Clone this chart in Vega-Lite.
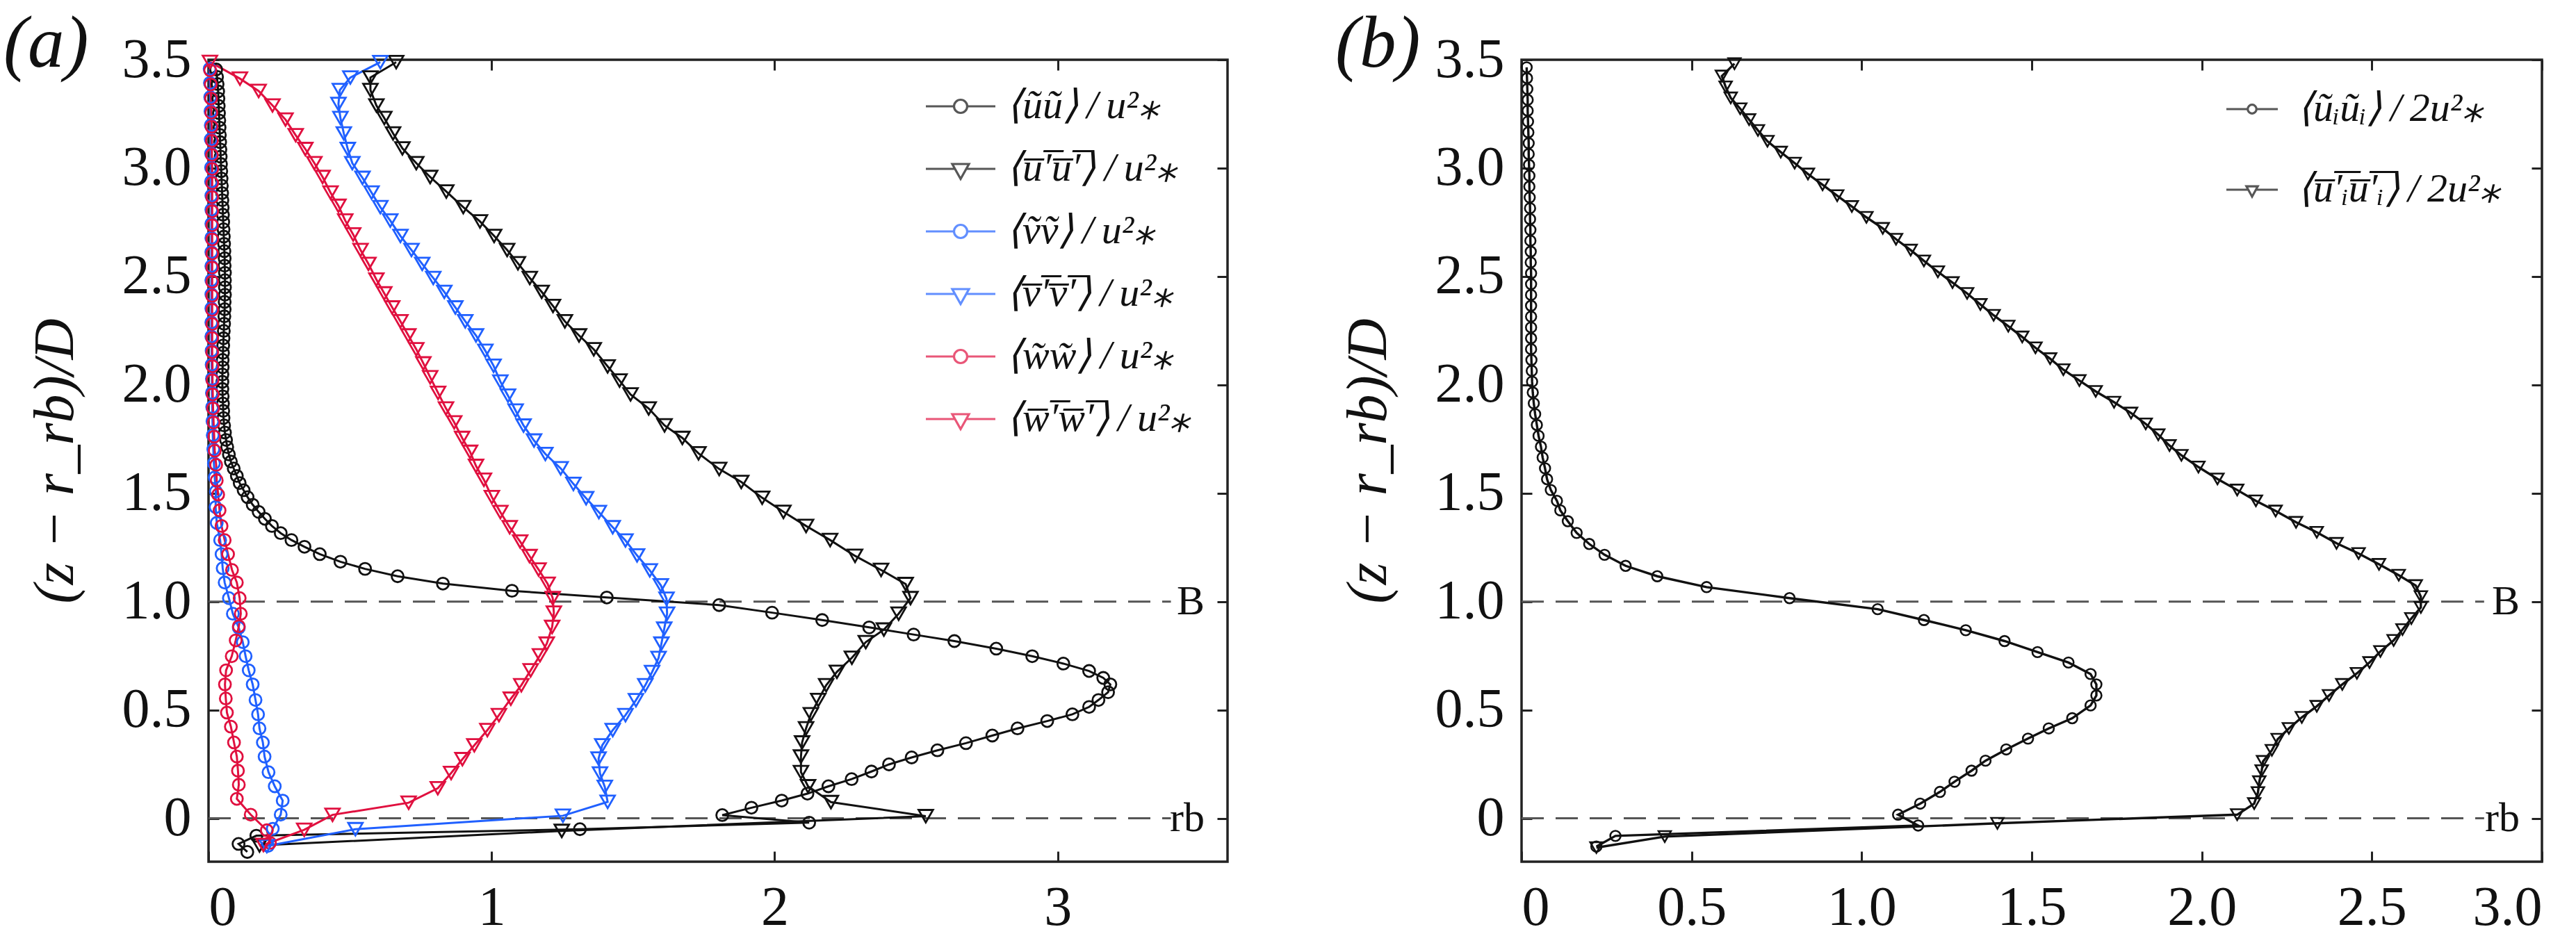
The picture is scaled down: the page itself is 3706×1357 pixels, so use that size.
{
  "$schema": "https://vega.github.io/schema/vega-lite/v6.json",
  "background": "white",
  "padding": {"left": 3, "top": 10, "right": 10, "bottom": 5},
  "bounds": "flush",
  "spacing": 423,
  "config": {
    "view": {"stroke": "#222222", "strokeWidth": 3.5},
    "font": "Liberation Serif",
    "axis": {
      "grid": false, "domain": false, "tickSize": -15, "tickWidth": 3, "tickColor": "#222222",
      "labelFont": "Liberation Serif", "labelFontSize": 80, "labelColor": "#111111",
      "titleFont": "Liberation Serif", "titleFontSize": 82, "titleFontStyle": "italic",
      "titleFontWeight": "normal", "titleColor": "#111111"
    },
    "axisBottom": {"labelPadding": 42},
    "axisLeft": {"labelPadding": 40, "titlePadding": 54},
    "title": {"font": "Liberation Serif", "fontSize": 105, "fontStyle": "italic", "fontWeight": "normal",
              "anchor": "start", "frame": "group", "color": "#111111", "offset": 0, "baseline": "alphabetic", "dy": 76},
    "legend": {"title": null, "orient": "none", "padding": 0, "labelFont": "Liberation Serif",
               "labelFontStyle": "italic", "labelFontSize": 58, "labelColor": "#111111",
               "labelLimit": 2000, "symbolStrokeWidth": 3.2}
  },
  "hconcat": [
    {
      "width": 1466,
      "height": 1154,
      "title": {"text": "(a)", "dx": -295},
      "data": {"values": [
        {"s":"a1","z":-0.155,"x":0.137},{"s":"a1","z":-0.118,"x":0.106},{"s":"a1","z":-0.080,"x":0.169},{"s":"a1","z":-0.050,"x":1.312},
        {"s":"a1","z":-0.020,"x":2.122},{"s":"a1","z":0.015,"x":1.815},{"s":"a1","z":0.049,"x":1.918},{"s":"a1","z":0.082,"x":2.025},
        {"s":"a1","z":0.114,"x":2.116},{"s":"a1","z":0.148,"x":2.190},{"s":"a1","z":0.181,"x":2.272},{"s":"a1","z":0.216,"x":2.342},
        {"s":"a1","z":0.249,"x":2.404},{"s":"a1","z":0.281,"x":2.484},{"s":"a1","z":0.314,"x":2.575},{"s":"a1","z":0.347,"x":2.676},
        {"s":"a1","z":0.382,"x":2.769},{"s":"a1","z":0.415,"x":2.858},{"s":"a1","z":0.449,"x":2.963},{"s":"a1","z":0.480,"x":3.052},
        {"s":"a1","z":0.514,"x":3.111},{"s":"a1","z":0.546,"x":3.144},{"s":"a1","z":0.582,"x":3.178},{"s":"a1","z":0.618,"x":3.186},
        {"s":"a1","z":0.648,"x":3.161},{"s":"a1","z":0.680,"x":3.111},{"s":"a1","z":0.714,"x":3.020},{"s":"a1","z":0.748,"x":2.910},
        {"s":"a1","z":0.783,"x":2.783},{"s":"a1","z":0.818,"x":2.635},{"s":"a1","z":0.848,"x":2.491},{"s":"a1","z":0.881,"x":2.334},
        {"s":"a1","z":0.915,"x":2.168},{"s":"a1","z":0.949,"x":1.991},{"s":"a1","z":0.984,"x":1.804},{"s":"a1","z":1.019,"x":1.407},
        {"s":"a1","z":1.050,"x":1.072},{"s":"a1","z":1.083,"x":0.828},{"s":"a1","z":1.117,"x":0.668},{"s":"a1","z":1.151,"x":0.553},
        {"s":"a1","z":1.184,"x":0.466},{"s":"a1","z":1.219,"x":0.393},{"s":"a1","z":1.253,"x":0.339},{"s":"a1","z":1.284,"x":0.293},
        {"s":"a1","z":1.316,"x":0.255},{"s":"a1","z":1.349,"x":0.224},{"s":"a1","z":1.382,"x":0.199},{"s":"a1","z":1.414,"x":0.177},
        {"s":"a1","z":1.447,"x":0.156},{"s":"a1","z":1.482,"x":0.138},{"s":"a1","z":1.514,"x":0.124},{"s":"a1","z":1.547,"x":0.110},
        {"s":"a1","z":1.580,"x":0.100},{"s":"a1","z":1.614,"x":0.089},{"s":"a1","z":1.646,"x":0.079},{"s":"a1","z":1.679,"x":0.072},
        {"s":"a1","z":1.713,"x":0.066},{"s":"a1","z":1.746,"x":0.062},{"s":"a1","z":1.780,"x":0.058},{"s":"a1","z":1.813,"x":0.055},
        {"s":"a1","z":1.847,"x":0.053},{"s":"a1","z":1.880,"x":0.052},{"s":"a1","z":1.914,"x":0.051},{"s":"a1","z":1.947,"x":0.050},
        {"s":"a1","z":1.981,"x":0.049},{"s":"a1","z":2.014,"x":0.049},{"s":"a1","z":2.048,"x":0.049},{"s":"a1","z":2.081,"x":0.050},
        {"s":"a1","z":2.115,"x":0.050},{"s":"a1","z":2.148,"x":0.051},{"s":"a1","z":2.182,"x":0.052},{"s":"a1","z":2.215,"x":0.053},
        {"s":"a1","z":2.249,"x":0.054},{"s":"a1","z":2.282,"x":0.055},{"s":"a1","z":2.316,"x":0.056},{"s":"a1","z":2.349,"x":0.057},
        {"s":"a1","z":2.383,"x":0.057},{"s":"a1","z":2.416,"x":0.058},{"s":"a1","z":2.450,"x":0.058},{"s":"a1","z":2.483,"x":0.058},
        {"s":"a1","z":2.517,"x":0.058},{"s":"a1","z":2.550,"x":0.057},{"s":"a1","z":2.584,"x":0.057},{"s":"a1","z":2.617,"x":0.056},
        {"s":"a1","z":2.651,"x":0.055},{"s":"a1","z":2.684,"x":0.054},{"s":"a1","z":2.718,"x":0.053},{"s":"a1","z":2.751,"x":0.052},
        {"s":"a1","z":2.785,"x":0.051},{"s":"a1","z":2.818,"x":0.050},{"s":"a1","z":2.852,"x":0.049},{"s":"a1","z":2.885,"x":0.048},
        {"s":"a1","z":2.919,"x":0.047},{"s":"a1","z":2.952,"x":0.046},{"s":"a1","z":2.986,"x":0.045},{"s":"a1","z":3.019,"x":0.044},
        {"s":"a1","z":3.053,"x":0.043},{"s":"a1","z":3.086,"x":0.042},{"s":"a1","z":3.120,"x":0.041},{"s":"a1","z":3.153,"x":0.040},
        {"s":"a1","z":3.187,"x":0.039},{"s":"a1","z":3.220,"x":0.038},{"s":"a1","z":3.254,"x":0.037},{"s":"a1","z":3.287,"x":0.036},
        {"s":"a1","z":3.321,"x":0.035},{"s":"a1","z":3.354,"x":0.034},{"s":"a1","z":3.388,"x":0.032},{"s":"a1","z":3.421,"x":0.030},
        {"s":"a1","z":3.455,"x":0.027},

        {"s":"a2","z":-0.125,"x":0.180},{"s":"a2","z":-0.058,"x":1.248},{"s":"a2","z":0.010,"x":2.534},{"s":"a2","z":0.075,"x":2.199},
        {"s":"a2","z":0.148,"x":2.118},{"s":"a2","z":0.213,"x":2.093},{"s":"a2","z":0.285,"x":2.093},{"s":"a2","z":0.350,"x":2.097},
        {"s":"a2","z":0.415,"x":2.111},{"s":"a2","z":0.480,"x":2.128},{"s":"a2","z":0.546,"x":2.154},{"s":"a2","z":0.614,"x":2.182},
        {"s":"a2","z":0.676,"x":2.220},{"s":"a2","z":0.741,"x":2.273},{"s":"a2","z":0.813,"x":2.322},{"s":"a2","z":0.871,"x":2.386},
        {"s":"a2","z":0.944,"x":2.438},{"s":"a2","z":1.016,"x":2.480},{"s":"a2","z":1.081,"x":2.463},{"s":"a2","z":1.146,"x":2.376},
        {"s":"a2","z":1.211,"x":2.284},{"s":"a2","z":1.284,"x":2.196},{"s":"a2","z":1.349,"x":2.111},{"s":"a2","z":1.414,"x":2.031},
        {"s":"a2","z":1.479,"x":1.956},{"s":"a2","z":1.552,"x":1.882},{"s":"a2","z":1.612,"x":1.804},{"s":"a2","z":1.684,"x":1.731},
        {"s":"a2","z":1.755,"x":1.674},{"s":"a2","z":1.813,"x":1.611},{"s":"a2","z":1.891,"x":1.555},{"s":"a2","z":1.956,"x":1.491},
        {"s":"a2","z":2.020,"x":1.452},{"s":"a2","z":2.085,"x":1.410},{"s":"a2","z":2.164,"x":1.361},{"s":"a2","z":2.228,"x":1.309},
        {"s":"a2","z":2.293,"x":1.259},{"s":"a2","z":2.364,"x":1.217},{"s":"a2","z":2.429,"x":1.177},{"s":"a2","z":2.493,"x":1.135},
        {"s":"a2","z":2.561,"x":1.093},{"s":"a2","z":2.622,"x":1.055},{"s":"a2","z":2.687,"x":1.009},{"s":"a2","z":2.754,"x":0.959},
        {"s":"a2","z":2.820,"x":0.900},{"s":"a2","z":2.892,"x":0.840},{"s":"a2","z":2.959,"x":0.783},{"s":"a2","z":3.023,"x":0.734},
        {"s":"a2","z":3.091,"x":0.685},{"s":"a2","z":3.160,"x":0.652},{"s":"a2","z":3.231,"x":0.621},{"s":"a2","z":3.289,"x":0.593},
        {"s":"a2","z":3.360,"x":0.572},{"s":"a2","z":3.418,"x":0.572},{"s":"a2","z":3.489,"x":0.663},

        {"s":"a3","z":-0.127,"x":0.210},{"s":"a3","z":-0.048,"x":0.227},{"s":"a3","z":0.017,"x":0.255},{"s":"a3","z":0.082,"x":0.262},
        {"s":"a3","z":0.148,"x":0.234},{"s":"a3","z":0.213,"x":0.212},{"s":"a3","z":0.285,"x":0.198},{"s":"a3","z":0.350,"x":0.192},
        {"s":"a3","z":0.415,"x":0.180},{"s":"a3","z":0.480,"x":0.175},{"s":"a3","z":0.546,"x":0.166},{"s":"a3","z":0.618,"x":0.156},
        {"s":"a3","z":0.683,"x":0.142},{"s":"a3","z":0.748,"x":0.131},{"s":"a3","z":0.813,"x":0.121},{"s":"a3","z":0.879,"x":0.107},
        {"s":"a3","z":0.944,"x":0.086},{"s":"a3","z":1.016,"x":0.072},{"s":"a3","z":1.088,"x":0.057},{"s":"a3","z":1.154,"x":0.050},
        {"s":"a3","z":1.219,"x":0.046},{"s":"a3","z":1.284,"x":0.041},{"s":"a3","z":1.363,"x":0.029},{"s":"a3","z":1.436,"x":0.025},
        {"s":"a3","z":1.508,"x":0.026},{"s":"a3","z":1.573,"x":0.022},{"s":"a3","z":1.638,"x":0.019},{"s":"a3","z":1.703,"x":0.017},
        {"s":"a3","z":1.768,"x":0.015},{"s":"a3","z":1.833,"x":0.014},{"s":"a3","z":1.898,"x":0.013},{"s":"a3","z":1.963,"x":0.012},
        {"s":"a3","z":2.028,"x":0.012},{"s":"a3","z":2.093,"x":0.011},{"s":"a3","z":2.158,"x":0.011},{"s":"a3","z":2.223,"x":0.010},
        {"s":"a3","z":2.288,"x":0.010},{"s":"a3","z":2.353,"x":0.010},{"s":"a3","z":2.418,"x":0.010},{"s":"a3","z":2.483,"x":0.010},
        {"s":"a3","z":2.548,"x":0.010},{"s":"a3","z":2.613,"x":0.010},{"s":"a3","z":2.678,"x":0.010},{"s":"a3","z":2.743,"x":0.010},
        {"s":"a3","z":2.808,"x":0.010},{"s":"a3","z":2.873,"x":0.010},{"s":"a3","z":2.938,"x":0.009},{"s":"a3","z":3.003,"x":0.009},
        {"s":"a3","z":3.068,"x":0.009},{"s":"a3","z":3.133,"x":0.008},{"s":"a3","z":3.198,"x":0.008},{"s":"a3","z":3.263,"x":0.007},
        {"s":"a3","z":3.328,"x":0.006},{"s":"a3","z":3.393,"x":0.005},{"s":"a3","z":3.458,"x":0.004},

        {"s":"a4","z":-0.128,"x":0.206},{"s":"a4","z":-0.050,"x":0.519},{"s":"a4","z":0.012,"x":1.252},{"s":"a4","z":0.076,"x":1.410},
        {"s":"a4","z":0.145,"x":1.400},{"s":"a4","z":0.207,"x":1.383},{"s":"a4","z":0.276,"x":1.378},{"s":"a4","z":0.337,"x":1.391},
        {"s":"a4","z":0.407,"x":1.428},{"s":"a4","z":0.476,"x":1.473},{"s":"a4","z":0.545,"x":1.510},{"s":"a4","z":0.614,"x":1.543},
        {"s":"a4","z":0.675,"x":1.567},{"s":"a4","z":0.740,"x":1.590},{"s":"a4","z":0.806,"x":1.600},{"s":"a4","z":0.875,"x":1.610},
        {"s":"a4","z":0.944,"x":1.620},{"s":"a4","z":1.013,"x":1.618},{"s":"a4","z":1.075,"x":1.598},{"s":"a4","z":1.144,"x":1.559},
        {"s":"a4","z":1.213,"x":1.514},{"s":"a4","z":1.282,"x":1.473},{"s":"a4","z":1.343,"x":1.428},{"s":"a4","z":1.413,"x":1.379},
        {"s":"a4","z":1.477,"x":1.334},{"s":"a4","z":1.543,"x":1.289},{"s":"a4","z":1.615,"x":1.244},{"s":"a4","z":1.681,"x":1.190},
        {"s":"a4","z":1.743,"x":1.150},{"s":"a4","z":1.812,"x":1.113},{"s":"a4","z":1.881,"x":1.085},{"s":"a4","z":1.950,"x":1.058},
        {"s":"a4","z":2.015,"x":1.031},{"s":"a4","z":2.088,"x":1.007},{"s":"a4","z":2.157,"x":0.978},{"s":"a4","z":2.228,"x":0.945},
        {"s":"a4","z":2.293,"x":0.907},{"s":"a4","z":2.357,"x":0.872},{"s":"a4","z":2.429,"x":0.833},{"s":"a4","z":2.493,"x":0.794},
        {"s":"a4","z":2.558,"x":0.755},{"s":"a4","z":2.622,"x":0.717},{"s":"a4","z":2.687,"x":0.678},{"s":"a4","z":2.758,"x":0.642},
        {"s":"a4","z":2.820,"x":0.607},{"s":"a4","z":2.887,"x":0.576},{"s":"a4","z":2.955,"x":0.544},{"s":"a4","z":3.023,"x":0.508},
        {"s":"a4","z":3.088,"x":0.492},{"s":"a4","z":3.160,"x":0.478},{"s":"a4","z":3.231,"x":0.466},{"s":"a4","z":3.296,"x":0.459},
        {"s":"a4","z":3.360,"x":0.464},{"s":"a4","z":3.418,"x":0.501},{"s":"a4","z":3.489,"x":0.607},

        {"s":"a5","z":-0.113,"x":0.217},{"s":"a5","z":-0.055,"x":0.206},{"s":"a5","z":0.017,"x":0.149},{"s":"a5","z":0.090,"x":0.100},
        {"s":"a5","z":0.155,"x":0.107},{"s":"a5","z":0.220,"x":0.104},{"s":"a5","z":0.285,"x":0.100},{"s":"a5","z":0.350,"x":0.090},
        {"s":"a5","z":0.423,"x":0.079},{"s":"a5","z":0.488,"x":0.065},{"s":"a5","z":0.553,"x":0.061},{"s":"a5","z":0.618,"x":0.058},
        {"s":"a5","z":0.683,"x":0.062},{"s":"a5","z":0.748,"x":0.082},{"s":"a5","z":0.821,"x":0.096},{"s":"a5","z":0.886,"x":0.107},
        {"s":"a5","z":0.944,"x":0.114},{"s":"a5","z":1.016,"x":0.110},{"s":"a5","z":1.088,"x":0.100},{"s":"a5","z":1.146,"x":0.083},
        {"s":"a5","z":1.219,"x":0.069},{"s":"a5","z":1.284,"x":0.057},{"s":"a5","z":1.349,"x":0.046},{"s":"a5","z":1.421,"x":0.039},
        {"s":"a5","z":1.494,"x":0.034},{"s":"a5","z":1.559,"x":0.029},{"s":"a5","z":1.631,"x":0.027},{"s":"a5","z":1.696,"x":0.022},
        {"s":"a5","z":1.761,"x":0.020},{"s":"a5","z":1.826,"x":0.018},{"s":"a5","z":1.891,"x":0.016},{"s":"a5","z":1.956,"x":0.015},
        {"s":"a5","z":2.021,"x":0.014},{"s":"a5","z":2.086,"x":0.014},{"s":"a5","z":2.151,"x":0.013},{"s":"a5","z":2.216,"x":0.013},
        {"s":"a5","z":2.281,"x":0.013},{"s":"a5","z":2.346,"x":0.013},{"s":"a5","z":2.411,"x":0.013},{"s":"a5","z":2.476,"x":0.013},
        {"s":"a5","z":2.541,"x":0.013},{"s":"a5","z":2.606,"x":0.013},{"s":"a5","z":2.671,"x":0.013},{"s":"a5","z":2.736,"x":0.013},
        {"s":"a5","z":2.801,"x":0.013},{"s":"a5","z":2.866,"x":0.013},{"s":"a5","z":2.931,"x":0.013},{"s":"a5","z":2.996,"x":0.013},
        {"s":"a5","z":3.061,"x":0.012},{"s":"a5","z":3.126,"x":0.012},{"s":"a5","z":3.191,"x":0.011},{"s":"a5","z":3.256,"x":0.010},
        {"s":"a5","z":3.321,"x":0.009},{"s":"a5","z":3.386,"x":0.008},{"s":"a5","z":3.451,"x":0.006},

        {"s":"a6","z":-0.123,"x":0.194},{"s":"a6","z":-0.053,"x":0.338},{"s":"a6","z":0.016,"x":0.438},{"s":"a6","z":0.072,"x":0.707},
        {"s":"a6","z":0.139,"x":0.810},{"s":"a6","z":0.209,"x":0.857},{"s":"a6","z":0.273,"x":0.897},{"s":"a6","z":0.337,"x":0.939},
        {"s":"a6","z":0.407,"x":0.985},{"s":"a6","z":0.476,"x":1.026},{"s":"a6","z":0.552,"x":1.068},{"s":"a6","z":0.614,"x":1.105},
        {"s":"a6","z":0.683,"x":1.138},{"s":"a6","z":0.752,"x":1.171},{"s":"a6","z":0.806,"x":1.195},{"s":"a6","z":0.883,"x":1.214},
        {"s":"a6","z":0.949,"x":1.220},{"s":"a6","z":1.016,"x":1.216},{"s":"a6","z":1.082,"x":1.198},{"s":"a6","z":1.148,"x":1.166},
        {"s":"a6","z":1.210,"x":1.134},{"s":"a6","z":1.277,"x":1.101},{"s":"a6","z":1.343,"x":1.064},{"s":"a6","z":1.413,"x":1.031},
        {"s":"a6","z":1.482,"x":1.001},{"s":"a6","z":1.562,"x":0.973},{"s":"a6","z":1.626,"x":0.945},{"s":"a6","z":1.691,"x":0.924},
        {"s":"a6","z":1.755,"x":0.896},{"s":"a6","z":1.827,"x":0.868},{"s":"a6","z":1.891,"x":0.839},{"s":"a6","z":1.963,"x":0.811},
        {"s":"a6","z":2.035,"x":0.783},{"s":"a6","z":2.099,"x":0.759},{"s":"a6","z":2.164,"x":0.734},{"s":"a6","z":2.228,"x":0.706},
        {"s":"a6","z":2.293,"x":0.678},{"s":"a6","z":2.357,"x":0.649},{"s":"a6","z":2.422,"x":0.621},{"s":"a6","z":2.486,"x":0.593},
        {"s":"a6","z":2.558,"x":0.565},{"s":"a6","z":2.622,"x":0.537},{"s":"a6","z":2.694,"x":0.511},{"s":"a6","z":2.758,"x":0.483},
        {"s":"a6","z":2.826,"x":0.459},{"s":"a6","z":2.887,"x":0.431},{"s":"a6","z":2.959,"x":0.403},{"s":"a6","z":3.023,"x":0.374},
        {"s":"a6","z":3.088,"x":0.342},{"s":"a6","z":3.152,"x":0.308},{"s":"a6","z":3.224,"x":0.272},{"s":"a6","z":3.289,"x":0.226},
        {"s":"a6","z":3.356,"x":0.177},{"s":"a6","z":3.413,"x":0.111},{"s":"a6","z":3.490,"x":0.005}
      ]},
      "layer": [
        {
          "data": {"values": [{"z": 1, "x0": 0, "x1": 3.40, "lab": "B"}, {"z": 0, "x0": 0, "x1": 3.40, "lab": "rb"}]},
          "mark": {"type": "rule", "color": "#555555", "strokeWidth": 3, "strokeDash": [32, 17]},
          "encoding": {
            "x": {"field": "x0", "type": "quantitative", "scale": {"domain": [0, 3.6], "nice": false, "zero": false},
                  "axis": {"orient": "top", "labels": false, "title": null, "values": [0, 1, 2, 3]}},
            "x2": {"field": "x1"},
            "y": {"field": "z", "type": "quantitative", "scale": {"domain": [-0.2, 3.5], "nice": false, "zero": false},
                  "axis": {"orient": "right", "labels": false, "title": null, "values": [0, 0.5, 1, 1.5, 2, 2.5, 3, 3.5]}}
          }
        },
        {
          "data": {"values": [{"z": 1, "lab": "B"}, {"z": 0, "lab": "rb"}]},
          "mark": {"type": "text", "align": "right", "baseline": "middle", "dx": -33, "fontSize": 60,
                   "font": "Liberation Serif", "color": "#111111"},
          "encoding": {
            "x": {"datum": 3.6, "type": "quantitative", "axis": null},
            "y": {"field": "z", "type": "quantitative", "axis": null},
            "text": {"field": "lab"}
          }
        },
        {
          "mark": {"type": "line", "strokeWidth": 3},
          "encoding": {
            "x": {"field": "x", "type": "quantitative",
                  "axis": {"orient": "bottom", "title": null, "values": [0, 1, 2, 3], "format": "d",
                           "labelFont": "Liberation Serif", "labelFontSize": 80}},
            "y": {"field": "z", "type": "quantitative",
                  "axis": {"orient": "left", "title": "(z \u2212 r_rb)/D", "values": [0, 0.5, 1, 1.5, 2, 2.5, 3, 3.5],
                           "labelExpr": "datum.value == 0 ? '0' : format(datum.value, '.1f')",
                           "labelFont": "Liberation Serif", "labelFontSize": 80,
                           "titleFont": "Liberation Serif", "titleFontSize": 82, "titleFontStyle": "italic", "titleFontWeight": "normal"}},
            "color": {"field": "s", "type": "nominal", "legend": null,
                      "scale": {"domain": ["a1", "a2", "a3", "a4", "a5", "a6"],
                                "range": ["#111111", "#111111", "#2060ff", "#2060ff", "#e0103f", "#e0103f"]}},
            "order": {"field": "z", "type": "quantitative"}
          }
        },
        {
          "transform": [{"filter": {"field": "s", "oneOf": ["a1", "a3", "a5"]}}],
          "mark": {"type": "point", "shape": "circle", "filled": false, "size": 290, "strokeWidth": 2.8, "opacity": 1},
          "encoding": {
            "x": {"field": "x", "type": "quantitative", "axis": null},
            "y": {"field": "z", "type": "quantitative", "axis": null},
            "color": {"field": "s", "type": "nominal", "legend": null,
                      "scale": {"domain": ["a1", "a2", "a3", "a4", "a5", "a6"],
                                "range": ["#111111", "#111111", "#2060ff", "#2060ff", "#e0103f", "#e0103f"]}}
          }
        },
        {
          "transform": [{"filter": {"field": "s", "oneOf": ["a2", "a4", "a6"]}}],
          "mark": {"type": "point", "shape": "triangle-down", "filled": false, "size": 430, "strokeWidth": 2.8, "opacity": 1},
          "encoding": {
            "x": {"field": "x", "type": "quantitative", "axis": null},
            "y": {"field": "z", "type": "quantitative", "axis": null},
            "color": {"field": "s", "type": "nominal", "legend": null,
                      "scale": {"domain": ["a1", "a2", "a3", "a4", "a5", "a6"],
                                "range": ["#111111", "#111111", "#2060ff", "#2060ff", "#e0103f", "#e0103f"]}}
          }
        },
        {
          "data": {"values": [{"lab": "none"}]},
          "transform": [{"filter": "false"}],
          "mark": {"type": "point", "filled": false},
          "encoding": {
            "color": {"field": "lab", "type": "nominal",
                      "scale": {"domain": [
                        "\u27e8\u0169\u0169\u27e9\u2009/\u2009u\u00b2\u204e",
                        "\u27e8u\u0305\u2032\u0305u\u0305\u2032\u0305\u27e9\u2009/\u2009u\u00b2\u204e",
                        "\u27e8\u1e7d\u1e7d\u27e9\u2009/\u2009u\u00b2\u204e",
                        "\u27e8v\u0305\u2032\u0305v\u0305\u2032\u0305\u27e9\u2009/\u2009u\u00b2\u204e",
                        "\u27e8w\u0303w\u0303\u27e9\u2009/\u2009u\u00b2\u204e",
                        "\u27e8w\u0305\u2032\u0305w\u0305\u2032\u0305\u27e9\u2009/\u2009u\u00b2\u204e"],
                        "range": ["#111111", "#111111", "#2060ff", "#2060ff", "#e0103f", "#e0103f"]},
                      "legend": {"legendX": 1030, "legendY": 15, "symbolSize": 10000, "rowPadding": 9, "labelOffset": 14}},
            "shape": {"field": "lab", "type": "nominal",
                      "scale": {"domain": [
                        "\u27e8\u0169\u0169\u27e9\u2009/\u2009u\u00b2\u204e",
                        "\u27e8u\u0305\u2032\u0305u\u0305\u2032\u0305\u27e9\u2009/\u2009u\u00b2\u204e",
                        "\u27e8\u1e7d\u1e7d\u27e9\u2009/\u2009u\u00b2\u204e",
                        "\u27e8v\u0305\u2032\u0305v\u0305\u2032\u0305\u27e9\u2009/\u2009u\u00b2\u204e",
                        "\u27e8w\u0303w\u0303\u27e9\u2009/\u2009u\u00b2\u204e",
                        "\u27e8w\u0305\u2032\u0305w\u0305\u2032\u0305\u27e9\u2009/\u2009u\u00b2\u204e"],
                        "range": [
                          "M-1,0H-0.19M0.19,0H1M-0.19,0A0.19,0.19 0 1 1 0.19,0A0.19,0.19 0 1 1 -0.19,0",
                          "M-1,0H-0.16M0.16,0H1M-0.24,-0.14L0.24,-0.14L0,0.29Z",
                          "M-1,0H-0.19M0.19,0H1M-0.19,0A0.19,0.19 0 1 1 0.19,0A0.19,0.19 0 1 1 -0.19,0",
                          "M-1,0H-0.16M0.16,0H1M-0.24,-0.14L0.24,-0.14L0,0.29Z",
                          "M-1,0H-0.19M0.19,0H1M-0.19,0A0.19,0.19 0 1 1 0.19,0A0.19,0.19 0 1 1 -0.19,0",
                          "M-1,0H-0.16M0.16,0H1M-0.24,-0.14L0.24,-0.14L0,0.29Z"]},
                      "legend": {"legendX": 1030, "legendY": 15, "symbolSize": 10000, "rowPadding": 9, "labelOffset": 14}}
          }
        }
      ],
      "resolve": {"scale": {"color": "independent", "shape": "independent"},
                  "axis": {"x": "independent", "y": "independent"}}
    },
    {
      "width": 1468,
      "height": 1154,
      "title": {"text": "(b)", "dx": -268},
      "data": {"values": [
        {"s":"b1","z":-0.130,"x":0.220},{"s":"b1","z":-0.081,"x":0.276},{"s":"b1","z":-0.033,"x":1.166},{"s":"b1","z":0.017,"x":1.107},
        {"s":"b1","z":0.068,"x":1.172},{"s":"b1","z":0.122,"x":1.230},{"s":"b1","z":0.169,"x":1.273},{"s":"b1","z":0.220,"x":1.323},
        {"s":"b1","z":0.266,"x":1.364},{"s":"b1","z":0.318,"x":1.425},{"s":"b1","z":0.368,"x":1.489},{"s":"b1","z":0.415,"x":1.550},
        {"s":"b1","z":0.462,"x":1.619},{"s":"b1","z":0.521,"x":1.673},{"s":"b1","z":0.567,"x":1.690},{"s":"b1","z":0.618,"x":1.690},
        {"s":"b1","z":0.666,"x":1.673},{"s":"b1","z":0.719,"x":1.608},{"s":"b1","z":0.767,"x":1.517},{"s":"b1","z":0.818,"x":1.420},
        {"s":"b1","z":0.868,"x":1.306},{"s":"b1","z":0.915,"x":1.183},{"s":"b1","z":0.965,"x":1.047},{"s":"b1","z":1.016,"x":0.788},
        {"s":"b1","z":1.067,"x":0.544},{"s":"b1","z":1.117,"x":0.399},{"s":"b1","z":1.165,"x":0.306},{"s":"b1","z":1.216,"x":0.244},
        {"s":"b1","z":1.266,"x":0.199},{"s":"b1","z":1.317,"x":0.162},{"s":"b1","z":1.371,"x":0.136},{"s":"b1","z":1.421,"x":0.114},
        {"s":"b1","z":1.465,"x":0.104},{"s":"b1","z":1.515,"x":0.086},{"s":"b1","z":1.565,"x":0.075},{"s":"b1","z":1.615,"x":0.069},
        {"s":"b1","z":1.665,"x":0.062},{"s":"b1","z":1.715,"x":0.057},{"s":"b1","z":1.765,"x":0.050},{"s":"b1","z":1.815,"x":0.045},
        {"s":"b1","z":1.865,"x":0.040},{"s":"b1","z":1.915,"x":0.036},{"s":"b1","z":1.965,"x":0.033},{"s":"b1","z":2.015,"x":0.031},
        {"s":"b1","z":2.065,"x":0.030},{"s":"b1","z":2.115,"x":0.029},{"s":"b1","z":2.165,"x":0.028},{"s":"b1","z":2.215,"x":0.028},
        {"s":"b1","z":2.265,"x":0.028},{"s":"b1","z":2.315,"x":0.028},{"s":"b1","z":2.365,"x":0.028},{"s":"b1","z":2.415,"x":0.028},
        {"s":"b1","z":2.465,"x":0.028},{"s":"b1","z":2.515,"x":0.028},{"s":"b1","z":2.565,"x":0.027},{"s":"b1","z":2.615,"x":0.027},
        {"s":"b1","z":2.665,"x":0.026},{"s":"b1","z":2.715,"x":0.026},{"s":"b1","z":2.765,"x":0.025},{"s":"b1","z":2.815,"x":0.025},
        {"s":"b1","z":2.865,"x":0.024},{"s":"b1","z":2.915,"x":0.023},{"s":"b1","z":2.965,"x":0.023},{"s":"b1","z":3.015,"x":0.022},
        {"s":"b1","z":3.065,"x":0.021},{"s":"b1","z":3.115,"x":0.021},{"s":"b1","z":3.165,"x":0.020},{"s":"b1","z":3.215,"x":0.019},
        {"s":"b1","z":3.265,"x":0.018},{"s":"b1","z":3.315,"x":0.018},{"s":"b1","z":3.365,"x":0.017},{"s":"b1","z":3.415,"x":0.016},
        {"s":"b1","z":3.465,"x":0.015},

        {"s":"b2","z":-0.135,"x":0.220},{"s":"b2","z":-0.084,"x":0.421},{"s":"b2","z":-0.023,"x":1.399},{"s":"b2","z":0.017,"x":2.104},
        {"s":"b2","z":0.068,"x":2.154},{"s":"b2","z":0.119,"x":2.165},{"s":"b2","z":0.169,"x":2.169},{"s":"b2","z":0.220,"x":2.176},
        {"s":"b2","z":0.263,"x":2.180},{"s":"b2","z":0.314,"x":2.206},{"s":"b2","z":0.365,"x":2.223},{"s":"b2","z":0.415,"x":2.256},
        {"s":"b2","z":0.466,"x":2.294},{"s":"b2","z":0.517,"x":2.338},{"s":"b2","z":0.567,"x":2.374},{"s":"b2","z":0.618,"x":2.413},
        {"s":"b2","z":0.669,"x":2.456},{"s":"b2","z":0.719,"x":2.493},{"s":"b2","z":0.770,"x":2.525},{"s":"b2","z":0.821,"x":2.564},
        {"s":"b2","z":0.871,"x":2.590},{"s":"b2","z":0.922,"x":2.616},{"s":"b2","z":0.973,"x":2.644},{"s":"b2","z":1.023,"x":2.644},
        {"s":"b2","z":1.074,"x":2.629},{"s":"b2","z":1.122,"x":2.579},{"s":"b2","z":1.172,"x":2.521},{"s":"b2","z":1.222,"x":2.461},
        {"s":"b2","z":1.269,"x":2.396},{"s":"b2","z":1.320,"x":2.338},{"s":"b2","z":1.366,"x":2.277},{"s":"b2","z":1.418,"x":2.217},
        {"s":"b2","z":1.465,"x":2.159},{"s":"b2","z":1.515,"x":2.104},{"s":"b2","z":1.566,"x":2.046},{"s":"b2","z":1.621,"x":1.990},
        {"s":"b2","z":1.675,"x":1.940},{"s":"b2","z":1.720,"x":1.905},{"s":"b2","z":1.770,"x":1.872},{"s":"b2","z":1.820,"x":1.835},
        {"s":"b2","z":1.870,"x":1.792},{"s":"b2","z":1.920,"x":1.742},{"s":"b2","z":1.970,"x":1.688},{"s":"b2","z":2.020,"x":1.640},
        {"s":"b2","z":2.070,"x":1.593},{"s":"b2","z":2.121,"x":1.554},{"s":"b2","z":2.171,"x":1.511},{"s":"b2","z":2.221,"x":1.472},
        {"s":"b2","z":2.271,"x":1.431},{"s":"b2","z":2.321,"x":1.388},{"s":"b2","z":2.371,"x":1.349},{"s":"b2","z":2.422,"x":1.310},
        {"s":"b2","z":2.472,"x":1.267},{"s":"b2","z":2.522,"x":1.224},{"s":"b2","z":2.572,"x":1.183},{"s":"b2","z":2.622,"x":1.144},
        {"s":"b2","z":2.672,"x":1.101},{"s":"b2","z":2.722,"x":1.062},{"s":"b2","z":2.773,"x":1.014},{"s":"b2","z":2.823,"x":0.971},
        {"s":"b2","z":2.873,"x":0.928},{"s":"b2","z":2.923,"x":0.885},{"s":"b2","z":2.973,"x":0.842},{"s":"b2","z":3.023,"x":0.803},
        {"s":"b2","z":3.074,"x":0.762},{"s":"b2","z":3.124,"x":0.723},{"s":"b2","z":3.174,"x":0.695},{"s":"b2","z":3.224,"x":0.669},
        {"s":"b2","z":3.274,"x":0.643},{"s":"b2","z":3.324,"x":0.615},{"s":"b2","z":3.375,"x":0.600},{"s":"b2","z":3.425,"x":0.589},
        {"s":"b2","z":3.482,"x":0.626}
      ]},
      "layer": [
        {
          "data": {"values": [{"z": 1, "x0": 0, "x1": 2.83, "lab": "B"}, {"z": 0, "x0": 0, "x1": 2.83, "lab": "rb"}]},
          "mark": {"type": "rule", "color": "#555555", "strokeWidth": 3, "strokeDash": [32, 17]},
          "encoding": {
            "x": {"field": "x0", "type": "quantitative", "scale": {"domain": [0, 3.0], "nice": false, "zero": false},
                  "axis": {"orient": "top", "labels": false, "title": null, "values": [0, 0.5, 1, 1.5, 2, 2.5, 3]}},
            "x2": {"field": "x1"},
            "y": {"field": "z", "type": "quantitative", "scale": {"domain": [-0.2, 3.5], "nice": false, "zero": false},
                  "axis": {"orient": "right", "labels": false, "title": null, "values": [0, 0.5, 1, 1.5, 2, 2.5, 3, 3.5]}}
          }
        },
        {
          "data": {"values": [{"z": 1, "lab": "B"}, {"z": 0, "lab": "rb"}]},
          "mark": {"type": "text", "align": "right", "baseline": "middle", "dx": -32, "fontSize": 60,
                   "font": "Liberation Serif", "color": "#111111"},
          "encoding": {
            "x": {"datum": 3.0, "type": "quantitative", "axis": null},
            "y": {"field": "z", "type": "quantitative", "axis": null},
            "text": {"field": "lab"}
          }
        },
        {
          "mark": {"type": "line", "strokeWidth": 3.4},
          "encoding": {
            "x": {"field": "x", "type": "quantitative",
                  "axis": {"orient": "bottom", "title": null, "values": [0, 0.5, 1, 1.5, 2, 2.5, 3],
                           "labelExpr": "datum.value == 0 ? '0' : format(datum.value, '.1f')",
                           "labelFont": "Liberation Serif", "labelFontSize": 80}},
            "y": {"field": "z", "type": "quantitative",
                  "axis": {"orient": "left", "title": "(z \u2212 r_rb)/D", "values": [0, 0.5, 1, 1.5, 2, 2.5, 3, 3.5],
                           "labelExpr": "datum.value == 0 ? '0' : format(datum.value, '.1f')",
                           "labelFont": "Liberation Serif", "labelFontSize": 80,
                           "titleFont": "Liberation Serif", "titleFontSize": 82, "titleFontStyle": "italic", "titleFontWeight": "normal"}},
            "color": {"field": "s", "type": "nominal", "legend": null,
                      "scale": {"domain": ["b1", "b2"], "range": ["#111111", "#111111"]}},
            "order": {"field": "z", "type": "quantitative"}
          }
        },
        {
          "transform": [{"filter": {"field": "s", "equal": "b1"}}],
          "mark": {"type": "point", "shape": "circle", "filled": false, "size": 220, "strokeWidth": 2.6, "opacity": 1, "color": "#111111"},
          "encoding": {
            "x": {"field": "x", "type": "quantitative", "axis": null},
            "y": {"field": "z", "type": "quantitative", "axis": null}
          }
        },
        {
          "transform": [{"filter": {"field": "s", "equal": "b2"}}],
          "mark": {"type": "point", "shape": "triangle-down", "filled": false, "size": 320, "strokeWidth": 2.6, "opacity": 1, "color": "#111111"},
          "encoding": {
            "x": {"field": "x", "type": "quantitative", "axis": null},
            "y": {"field": "z", "type": "quantitative", "axis": null}
          }
        },
        {
          "data": {"values": [{"lab": "none"}]},
          "transform": [{"filter": "false"}],
          "mark": {"type": "point", "filled": false},
          "encoding": {
            "color": {"field": "lab", "type": "nominal",
                      "scale": {"domain": [
                        "\u27e8\u0169\u1d62\u0169\u1d62\u27e9\u2009/\u20092u\u00b2\u204e",
                        "\u27e8u\u0305\u2032\u0305\u1d62\u0305u\u0305\u2032\u0305\u1d62\u0305\u27e9\u2009/\u20092u\u00b2\u204e"],
                        "range": ["#111111", "#111111"]},
                      "legend": {"legendX": 1012, "legendY": 32, "symbolSize": 5476, "rowPadding": 48, "labelOffset": 26}},
            "shape": {"field": "lab", "type": "nominal",
                      "scale": {"domain": [
                        "\u27e8\u0169\u1d62\u0169\u1d62\u27e9\u2009/\u20092u\u00b2\u204e",
                        "\u27e8u\u0305\u2032\u0305\u1d62\u0305u\u0305\u2032\u0305\u1d62\u0305\u27e9\u2009/\u20092u\u00b2\u204e"],
                        "range": [
                          "M-1,0H-0.17M0.17,0H1M-0.17,0A0.17,0.17 0 1 1 0.17,0A0.17,0.17 0 1 1 -0.17,0",
                          "M-1,0H-0.15M0.15,0H1M-0.22,-0.13L0.22,-0.13L0,0.27Z"]},
                      "legend": {"legendX": 1012, "legendY": 32, "symbolSize": 5476, "rowPadding": 48, "labelOffset": 26}}
          }
        }
      ],
      "resolve": {"scale": {"color": "independent", "shape": "independent"},
                  "axis": {"x": "independent", "y": "independent"}}
    }
  ],
  "resolve": {
    "scale": {"x": "independent", "y": "independent", "color": "independent", "shape": "independent"},
    "legend": {"color": "independent", "shape": "independent"}
  }
}
